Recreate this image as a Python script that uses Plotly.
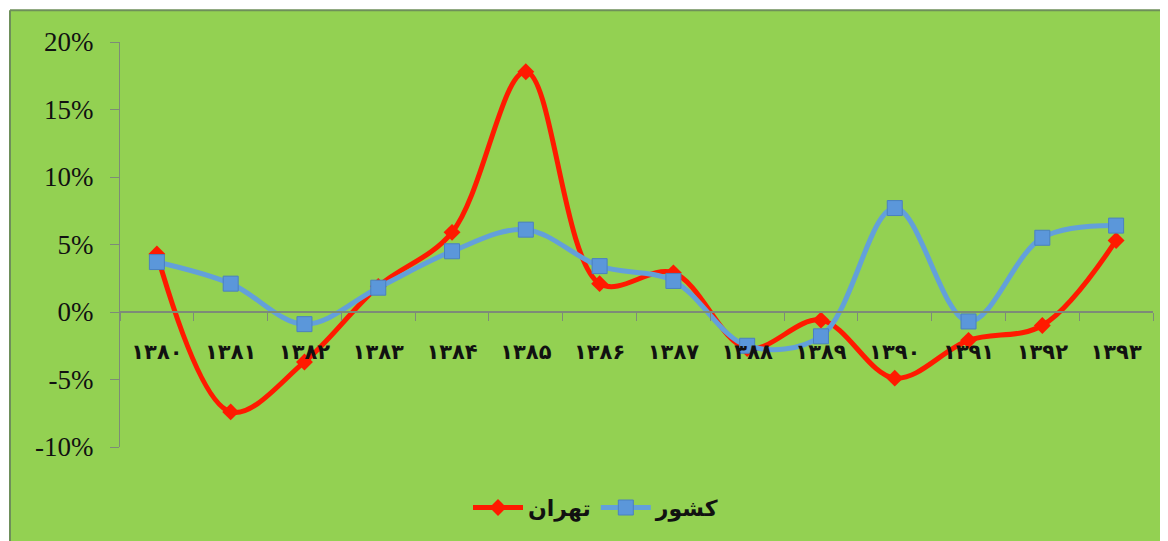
import plotly.graph_objects as go

years = ["۱۳۸۰", "۱۳۸۱", "۱۳۸۲", "۱۳۸۳", "۱۳۸۴", "۱۳۸۵", "۱۳۸۶",
         "۱۳۸۷", "۱۳۸۸", "۱۳۸۹", "۱۳۹۰", "۱۳۹۱", "۱۳۹۲", "۱۳۹۳"]
tehran = [0.043, -0.074, -0.037, 0.019, 0.059, 0.178, 0.021,
          0.029, -0.027, -0.006, -0.049, -0.021, -0.010, 0.053]
country = [0.037, 0.021, -0.009, 0.018, 0.045, 0.061, 0.034,
           0.023, -0.025, -0.018, 0.077, -0.007, 0.055, 0.064]
tehran_name = "تهران"
country_name = "کشور"
y_ticks = [-0.10, -0.05, 0.0, 0.05, 0.10, 0.15, 0.20]
y_ticklabels = ["-10%", "-5%", "0%", "5%", "10%", "15%", "20%"]

GREEN = "#93D152"
fig = go.Figure()
fig.add_trace(go.Scatter(
    x=years, y=tehran, name=tehran_name, mode="lines+markers",
    line=dict(color="#FF1A00", width=5, shape="spline", smoothing=1.0),
    marker=dict(symbol="diamond", size=13, color="#FF1A00"),
))
fig.add_trace(go.Scatter(
    x=years, y=country, name=country_name, mode="lines+markers",
    line=dict(color="#63A0DA", width=5, shape="spline", smoothing=1.0),
    marker=dict(symbol="square", size=15, color="#5B97DA",
                line=dict(color="#4A80C0", width=1)),
))

OFF = 8  # page body margin
W, H = 1168 - OFF, 541 - OFF
L, R, T, B = 120 - OFF, 15, 42 - OFF, 92
pw, ph = W - L - R, H - T - B
def px(x):
    return (x - OFF - L) / pw
def py(y):
    return (H - B - (y - OFF)) / ph

fig.add_shape(type="rect", xref="paper", yref="paper",
              x0=px(10), x1=px(1175), y0=py(550), y1=py(10),
              fillcolor=GREEN, line=dict(width=0), layer="below")
fig.add_shape(type="line", xref="paper", yref="paper",
              x0=px(10), x1=px(10), y0=py(550), y1=py(10),
              line=dict(color="#6E8F5A", width=2), layer="below")
fig.add_shape(type="line", xref="paper", yref="paper",
              x0=px(10), x1=px(1175), y0=py(10), y1=py(10),
              line=dict(color="#6E8F5A", width=2), layer="below")

fig.update_layout(
    width=W, height=H,
    margin=dict(l=L, r=R, t=T, b=B),
    paper_bgcolor="white",
    plot_bgcolor="rgba(0,0,0,0)",
    showlegend=True,
    legend=dict(orientation="h", x=px(596), xanchor="center", y=py(510),
                yanchor="middle", bgcolor="rgba(0,0,0,0)",
                font=dict(family="DejaVu Sans", size=22, color="#111111",
                          weight="bold"),
                itemwidth=50),
    xaxis=dict(
        type="category", anchor="free", position=1/3,
        range=[-0.5, 13.5], tickson="boundaries", ticks="outside",
        ticklen=8, tickcolor="#7D8B78", showline=True, linecolor="#7D8B78",
        linewidth=2, showgrid=False, zeroline=False,
        tickfont=dict(family="DejaVu Sans", size=21, color="#111111",
                      weight="bold"),
        ticklabelstandoff=21,
    ),
    yaxis=dict(
        range=[-0.10, 0.20], tickvals=y_ticks, ticktext=y_ticklabels,
        ticks="outside", ticklen=9, tickcolor="#7D8B78", showline=True,
        linecolor="#7D8B78", linewidth=1, showgrid=False, zeroline=False,
        tickfont=dict(family="Liberation Serif", size=27, color="#111111"),
        ticklabelstandoff=11,
    ),
)
fig.write_html("out.html")
